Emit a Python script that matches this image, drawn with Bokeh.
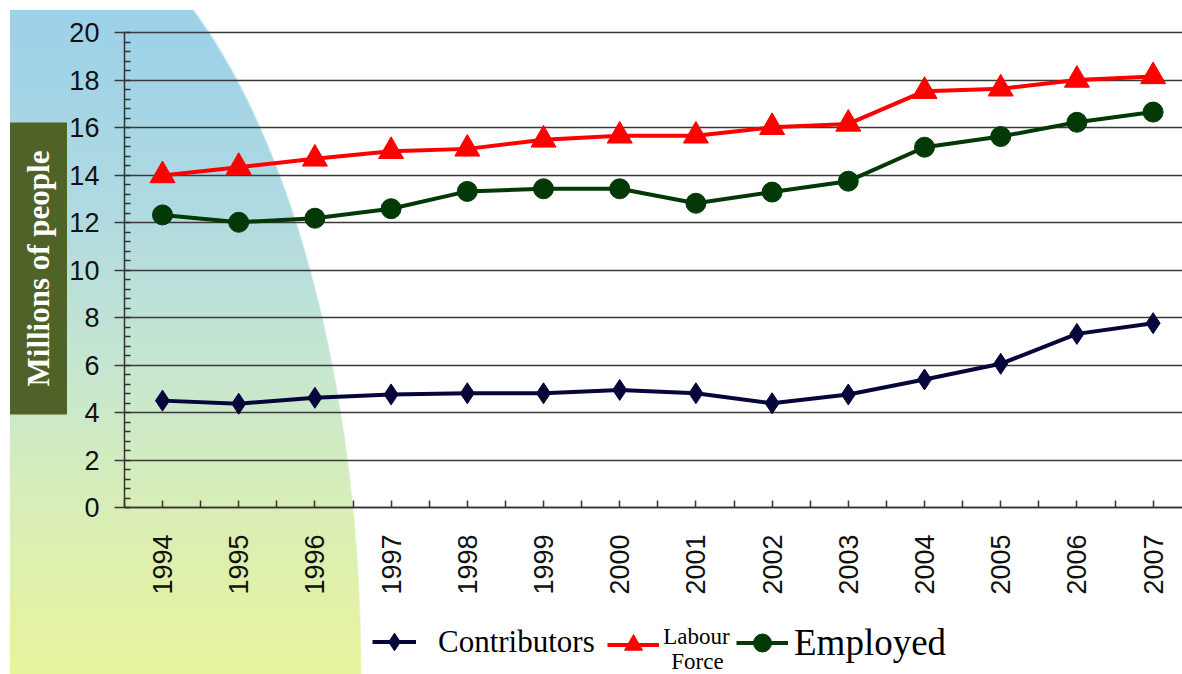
import math
from bokeh.plotting import figure
from bokeh.models import Range1d, FixedTicker, SingleIntervalTicker, Legend, LegendItem, Label
from bokeh.embed import file_html
from bokeh.resources import INLINE

# ---- data ----
years = [1994, 1995, 1996, 1997, 1998, 1999, 2000, 2001, 2002, 2003, 2004, 2005, 2006, 2007]
year_labels = [str(y) for y in years]
contributors = [4.5, 4.37, 4.62, 4.76, 4.81, 4.81, 4.95, 4.81, 4.39, 4.76, 5.39, 6.05, 7.31, 7.76]
labour_force = [13.98, 14.33, 14.68, 15.0, 15.1, 15.48, 15.65, 15.65, 16.01, 16.15, 17.53, 17.63, 18.0, 18.15]
employed = [12.32, 12.01, 12.18, 12.58, 13.31, 13.42, 13.42, 12.81, 13.28, 13.74, 15.17, 15.62, 16.22, 16.65]
y_min, y_max, y_step = 0, 20, 2

C_CON = "#06063a"
C_LAB = "#ff0000"
C_EMP = "#033807"

# ---- layout constants (pixels) ----
W, H = 1182, 674
PX_YEAR = 76.2          # width of one year band
X_FIRST = 162           # pixel of the first year
PX_UNIT = 23.75         # pixels per million
Y_ZERO = 507            # pixel row of value 0

x0 = years[0] - X_FIRST / PX_YEAR
x1 = x0 + W / PX_YEAR
y0 = y_min - (H - Y_ZERO) / PX_UNIT
y1 = y0 + H / PX_UNIT

bg = ("radial-gradient(ellipse 350px 779px at 12px 674px, rgba(255,255,255,0) 99.5%, #ffffff 100%), "
      "linear-gradient(to bottom, #9bd1e9 0%, #b0dae1 30%, #c7e7cf 55%, #d9eeb6 75%, #e7f49c 100%) 10px 10px / 362px 664px no-repeat, "
      "#ffffff")

p = figure(width=W, height=H, output_backend="svg", toolbar_location=None,
           x_range=Range1d(x0, x1), y_range=Range1d(y0, y1),
           min_border=0, min_border_left=0, min_border_right=0, min_border_top=0, min_border_bottom=0,
           background_fill_alpha=0, border_fill_alpha=0, outline_line_color=None,
           styles={"background": bg})
p.grid.visible = False

axis_start = years[0] - 0.5

# x axis
p.xaxis.fixed_location = y_min
p.xaxis.bounds = (axis_start, years[-1] + 0.5)
p.xaxis.ticker = FixedTicker(ticks=years, minor_ticks=[y - 0.5 for y in years] + [years[-1] + 0.5])
p.xaxis.major_label_overrides = {y: s for y, s in zip(years, year_labels)}
p.xaxis.major_label_orientation = math.pi / 2
p.xaxis.major_tick_in = 7
p.xaxis.major_tick_out = 0
p.xaxis.minor_tick_in = 7
p.xaxis.minor_tick_out = 0
p.xaxis.major_label_standoff = 27

# y axis (major ticks stretched across the plot act as the horizontal grid lines)
p.yaxis.fixed_location = axis_start
p.yaxis.bounds = (y_min, y_max)
p.yaxis.ticker = SingleIntervalTicker(interval=y_step, num_minor_ticks=5)
p.yaxis.major_tick_in = W - 120
p.yaxis.major_tick_out = 10
p.yaxis.minor_tick_in = 6
p.yaxis.minor_tick_out = 0
p.yaxis.major_label_standoff = 15
p.yaxis.level = "underlay"

for ax in (p.xaxis, p.yaxis):
    ax.axis_line_color = "#333333"
    ax.axis_line_width = 1.5
    ax.major_tick_line_color = "#3a3a3a"
    ax.major_tick_line_width = 1.6
    ax.minor_tick_line_color = "#333333"
    ax.minor_tick_line_width = 1.5
    ax.major_label_text_font = "Liberation Sans"
    ax.major_label_text_font_size = "27px"
    ax.major_label_text_color = "#111111"

# series
r_con_l = p.line(years, contributors, line_color=C_CON, line_width=4)
r_con_m = p.scatter(years, contributors, marker="diamond", size=21, color=C_CON)
r_lab_l = p.line(years, labour_force, line_color=C_LAB, line_width=4)
r_lab_m = p.scatter(years, labour_force, marker="triangle", size=25, color=C_LAB)
r_emp_l = p.line(years, employed, line_color=C_EMP, line_width=4)
r_emp_m = p.scatter(years, employed, marker="circle", size=20, color=C_EMP)


def add_legend(label, renderers, x, y, size, standoff, gw):
    lg = Legend(items=[LegendItem(label=label, renderers=renderers)], location=(x, y),
                orientation="horizontal", glyph_width=gw, glyph_height=45,
                label_text_font="Liberation Serif", label_text_font_size=size,
                label_text_color="#000000", label_standoff=standoff,
                padding=0, margin=0, spacing=0,
                background_fill_alpha=0, border_line_alpha=0)
    p.add_layout(lg)


add_legend("Contributors", [r_con_l, r_con_m], 372, 10, "31px", 22, 44)
add_legend(" ", [r_lab_l, r_lab_m], 607, 7, "10px", 0, 52)
add_legend("Employed", [r_emp_l, r_emp_m], 736, 9, "37px", 6, 52)

p.add_layout(Label(x=696, y=38, x_units="screen", y_units="screen", text="Labour",
                   text_align="center", text_baseline="middle",
                   text_font="Liberation Serif", text_font_size="23px", text_color="#000000"))
p.add_layout(Label(x=697, y=13, x_units="screen", y_units="screen", text="Force",
                   text_align="center", text_baseline="middle",
                   text_font="Liberation Serif", text_font_size="23px", text_color="#000000"))

# y axis title box
p.add_layout(Label(x=38, y=406, x_units="screen", y_units="screen", text="Millions of people",
                   angle=math.pi / 2, text_align="center", text_baseline="middle",
                   text_font="Liberation Serif", text_font_style="bold", text_font_size="31px",
                   text_color="#ffffff", background_fill_color="#4f6228",
                   padding=(28, 11)))

open("out.html", "w").write(file_html(p, INLINE))
